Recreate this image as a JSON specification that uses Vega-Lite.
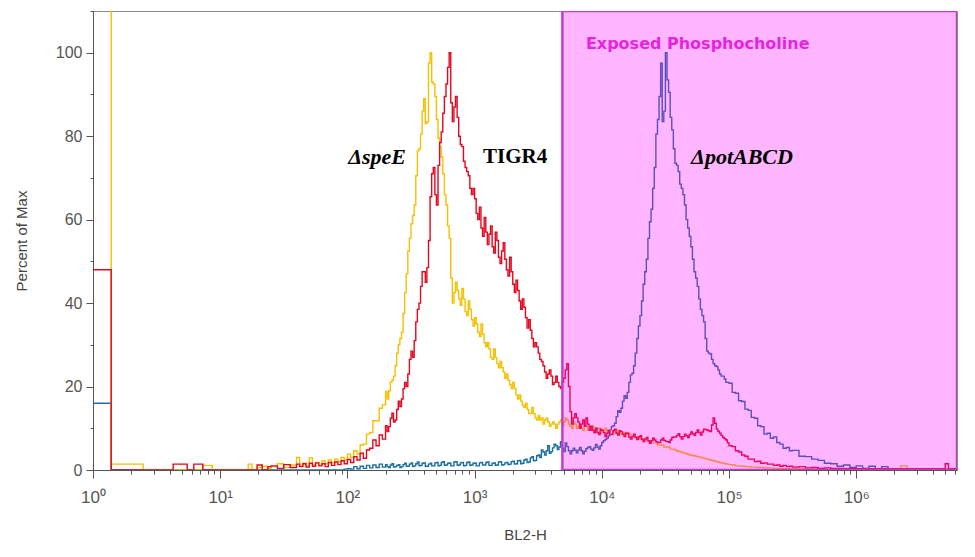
{
  "$schema": "https://vega.github.io/schema/vega-lite/v6.json",
  "width": 864,
  "height": 459,
  "autosize": "none",
  "padding": {"left": 93, "top": 11, "right": 18, "bottom": 87},
  "background": "white",
  "datasets": {
    "hist": [
      {"x": 1, "speE": 115, "TIGR4": 48, "potABCD": 16},
      {"x": 1.39, "speE": 1.4, "TIGR4": 0, "potABCD": 0},
      {"x": 2.48, "speE": 0, "TIGR4": 0, "potABCD": 0},
      {"x": 4.27, "speE": 0, "TIGR4": 1.4, "potABCD": 0},
      {"x": 5.5, "speE": 0, "TIGR4": 0, "potABCD": 0},
      {"x": 6.2, "speE": 0, "TIGR4": 1.4, "potABCD": 0},
      {"x": 7.3, "speE": 1.1, "TIGR4": 0, "potABCD": 0},
      {"x": 8.65, "speE": 0, "TIGR4": 0, "potABCD": 0},
      {"x": 16.6, "speE": 1.4, "TIGR4": 0, "potABCD": 0},
      {"x": 17.8, "speE": 0, "TIGR4": 0, "potABCD": 0},
      {"x": 19.5, "speE": 0.6, "TIGR4": 1.2, "potABCD": 0},
      {"x": 21.4, "speE": 0.9, "TIGR4": 0, "potABCD": 0},
      {"x": 23.7, "speE": 0.4, "TIGR4": 0.8, "potABCD": 0},
      {"x": 25.12, "speE": 0.8, "TIGR4": 1.0, "potABCD": 0},
      {"x": 28.18, "speE": 1.5, "TIGR4": 0.4, "potABCD": 0},
      {"x": 31.62, "speE": 0.6, "TIGR4": 1.3, "potABCD": 0},
      {"x": 35.48, "speE": 1.2, "TIGR4": 0.6, "potABCD": 0},
      {"x": 39.81, "speE": 3.0, "TIGR4": 1.4, "potABCD": 0},
      {"x": 42.17, "speE": 1.0, "TIGR4": 0.8, "potABCD": 0},
      {"x": 44.67, "speE": 1.6, "TIGR4": 1.5, "potABCD": 0},
      {"x": 47.32, "speE": 0.9, "TIGR4": 0.7, "potABCD": 0},
      {"x": 50.12, "speE": 2.9, "TIGR4": 1.6, "potABCD": 0},
      {"x": 53.09, "speE": 1.3, "TIGR4": 0.9, "potABCD": 0},
      {"x": 56.23, "speE": 1.8, "TIGR4": 1.7, "potABCD": 0},
      {"x": 59.57, "speE": 1.1, "TIGR4": 1.0, "potABCD": 0},
      {"x": 63.10, "speE": 2.2, "TIGR4": 1.5, "potABCD": 0},
      {"x": 66.83, "speE": 1.5, "TIGR4": 0.8, "potABCD": 0},
      {"x": 70.79, "speE": 2.4, "TIGR4": 1.8, "potABCD": 0},
      {"x": 74.99, "speE": 1.7, "TIGR4": 1.1, "potABCD": 0},
      {"x": 79.43, "speE": 2.6, "TIGR4": 1.9, "potABCD": 0},
      {"x": 84.14, "speE": 2.0, "TIGR4": 1.3, "potABCD": 0},
      {"x": 89.13, "speE": 3.0, "TIGR4": 2.2, "potABCD": 0},
      {"x": 94.41, "speE": 2.4, "TIGR4": 1.5, "potABCD": 0.2},
      {"x": 100, "speE": 3.8, "TIGR4": 2.5, "potABCD": 0.3},
      {"x": 105.9, "speE": 3.0, "TIGR4": 1.8, "potABCD": 0.2},
      {"x": 112.2, "speE": 4.6, "TIGR4": 3.2, "potABCD": 0.8},
      {"x": 118.9, "speE": 3.8, "TIGR4": 2.4, "potABCD": 0.3},
      {"x": 125.9, "speE": 6.0, "TIGR4": 4.0, "potABCD": 0.9},
      {"x": 133.4, "speE": 6.2, "TIGR4": 2.8, "potABCD": 0.4},
      {"x": 141.3, "speE": 8.6, "TIGR4": 4.8, "potABCD": 1.1},
      {"x": 149.6, "speE": 9.0, "TIGR4": 5.2, "potABCD": 0.5},
      {"x": 158.5, "speE": 11.8, "TIGR4": 7.2, "potABCD": 1.2},
      {"x": 167.9, "speE": 11.8, "TIGR4": 5.8, "potABCD": 0.6},
      {"x": 177.8, "speE": 14.8, "TIGR4": 8.4, "potABCD": 1.4},
      {"x": 188.4, "speE": 15.6, "TIGR4": 7.4, "potABCD": 0.7},
      {"x": 199.5, "speE": 18.8, "TIGR4": 10.6, "potABCD": 1.3},
      {"x": 211.3, "speE": 19.0, "TIGR4": 10.4, "potABCD": 0.6},
      {"x": 223.9, "speE": 21.5, "TIGR4": 13.6, "potABCD": 1.5},
      {"x": 237.1, "speE": 25.0, "TIGR4": 12.0, "potABCD": 0.8},
      {"x": 251.2, "speE": 30.0, "TIGR4": 16.5, "potABCD": 1.3},
      {"x": 266.1, "speE": 33.0, "TIGR4": 17.0, "potABCD": 0.8},
      {"x": 281.8, "speE": 42.5, "TIGR4": 21.0, "potABCD": 1.6},
      {"x": 298.5, "speE": 52.5, "TIGR4": 23.0, "potABCD": 0.9},
      {"x": 316.2, "speE": 59.0, "TIGR4": 28.5, "potABCD": 1.7},
      {"x": 335.0, "speE": 63.5, "TIGR4": 31.0, "potABCD": 1.0},
      {"x": 354.8, "speE": 76.5, "TIGR4": 38.5, "potABCD": 1.9},
      {"x": 375.8, "speE": 80.5, "TIGR4": 44.0, "potABCD": 1.1},
      {"x": 398.1, "speE": 89.0, "TIGR4": 47.5, "potABCD": 1.7},
      {"x": 421.7, "speE": 83.5, "TIGR4": 48.5, "potABCD": 0.9},
      {"x": 446.7, "speE": 100, "TIGR4": 65.5, "potABCD": 1.6},
      {"x": 473.2, "speE": 92.5, "TIGR4": 72.5, "potABCD": 1.0},
      {"x": 501.2, "speE": 84.0, "TIGR4": 63.5, "potABCD": 1.8},
      {"x": 530.9, "speE": 77.5, "TIGR4": 78.5, "potABCD": 1.1},
      {"x": 562.3, "speE": 71.0, "TIGR4": 85.5, "potABCD": 2.0},
      {"x": 595.7, "speE": 63.5, "TIGR4": 92.5, "potABCD": 1.2},
      {"x": 631.0, "speE": 55.5, "TIGR4": 100, "potABCD": 1.7},
      {"x": 668.3, "speE": 40.0, "TIGR4": 83.5, "potABCD": 1.0},
      {"x": 707.9, "speE": 45.0, "TIGR4": 89.5, "potABCD": 2.0},
      {"x": 749.9, "speE": 41.0, "TIGR4": 80.0, "potABCD": 1.2},
      {"x": 794.3, "speE": 43.5, "TIGR4": 77.5, "potABCD": 1.8},
      {"x": 841.4, "speE": 38.0, "TIGR4": 72.5, "potABCD": 1.1},
      {"x": 891.3, "speE": 40.5, "TIGR4": 70.5, "potABCD": 1.9},
      {"x": 944.1, "speE": 36.0, "TIGR4": 66.0, "potABCD": 1.2},
      {"x": 1000, "speE": 36.5, "TIGR4": 65.0, "potABCD": 1.7},
      {"x": 1059, "speE": 33.0, "TIGR4": 60.0, "potABCD": 1.0},
      {"x": 1122, "speE": 35.0, "TIGR4": 58.0, "potABCD": 1.8},
      {"x": 1189, "speE": 30.5, "TIGR4": 60.5, "potABCD": 1.2},
      {"x": 1259, "speE": 30.5, "TIGR4": 54.0, "potABCD": 1.9},
      {"x": 1334, "speE": 27.0, "TIGR4": 58.5, "potABCD": 1.1},
      {"x": 1413, "speE": 29.0, "TIGR4": 52.0, "potABCD": 1.7},
      {"x": 1496, "speE": 25.5, "TIGR4": 55.0, "potABCD": 1.2},
      {"x": 1585, "speE": 26.0, "TIGR4": 49.5, "potABCD": 2.0},
      {"x": 1679, "speE": 23.5, "TIGR4": 54.5, "potABCD": 1.3},
      {"x": 1778, "speE": 23.0, "TIGR4": 48.0, "potABCD": 1.8},
      {"x": 1884, "speE": 20.5, "TIGR4": 51.0, "potABCD": 1.4},
      {"x": 1995, "speE": 21.0, "TIGR4": 44.5, "potABCD": 2.1},
      {"x": 2113, "speE": 18.0, "TIGR4": 45.5, "potABCD": 1.5},
      {"x": 2239, "speE": 18.0, "TIGR4": 40.5, "potABCD": 2.3},
      {"x": 2371, "speE": 15.5, "TIGR4": 41.0, "potABCD": 1.6},
      {"x": 2512, "speE": 16.0, "TIGR4": 36.5, "potABCD": 2.6},
      {"x": 2661, "speE": 13.5, "TIGR4": 36.0, "potABCD": 1.9},
      {"x": 2818, "speE": 15.0, "TIGR4": 31.5, "potABCD": 3.2},
      {"x": 2985, "speE": 12.5, "TIGR4": 30.5, "potABCD": 2.3},
      {"x": 3162, "speE": 13.0, "TIGR4": 28.0, "potABCD": 3.6},
      {"x": 3350, "speE": 12.5, "TIGR4": 26.0, "potABCD": 4.8},
      {"x": 3548, "speE": 12.0, "TIGR4": 23.5, "potABCD": 3.6},
      {"x": 3758, "speE": 11.5, "TIGR4": 23.0, "potABCD": 5.8},
      {"x": 3981, "speE": 11.0, "TIGR4": 22.5, "potABCD": 4.4},
      {"x": 4217, "speE": 11.0, "TIGR4": 21.0, "potABCD": 6.2},
      {"x": 4467, "speE": 11.0, "TIGR4": 21.0, "potABCD": 4.9},
      {"x": 4732, "speE": 12.0, "TIGR4": 19.5, "potABCD": 6.8},
      {"x": 5012, "speE": 11.5, "TIGR4": 22.0, "potABCD": 4.4},
      {"x": 5309, "speE": 12.0, "TIGR4": 25.5, "potABCD": 5.6},
      {"x": 5623, "speE": 10.5, "TIGR4": 14.0, "potABCD": 3.9},
      {"x": 5957, "speE": 11.5, "TIGR4": 12.5, "potABCD": 5.2},
      {"x": 6310, "speE": 10.0, "TIGR4": 12.5, "potABCD": 4.1},
      {"x": 6683, "speE": 11.0, "TIGR4": 10.0, "potABCD": 5.4},
      {"x": 7079, "speE": 9.5, "TIGR4": 12.0, "potABCD": 3.9},
      {"x": 7499, "speE": 10.5, "TIGR4": 12.5, "potABCD": 5.1},
      {"x": 7943, "speE": 9.5, "TIGR4": 9.5, "potABCD": 5.6},
      {"x": 8414, "speE": 10.5, "TIGR4": 9.5, "potABCD": 4.7},
      {"x": 8913, "speE": 9.5, "TIGR4": 10.0, "potABCD": 6.1},
      {"x": 9441, "speE": 10.0, "TIGR4": 8.5, "potABCD": 5.0},
      {"x": 10000, "speE": 9.5, "TIGR4": 9.5, "potABCD": 6.6},
      {"x": 10590, "speE": 10.0, "TIGR4": 8.0, "potABCD": 7.3},
      {"x": 11220, "speE": 9.0, "TIGR4": 9.5, "potABCD": 8.2},
      {"x": 11890, "speE": 9.5, "TIGR4": 8.5, "potABCD": 10.4},
      {"x": 12590, "speE": 9.0, "TIGR4": 9.8, "potABCD": 11.2},
      {"x": 13340, "speE": 9.5, "TIGR4": 8.4, "potABCD": 14.2},
      {"x": 14130, "speE": 8.5, "TIGR4": 9.2, "potABCD": 14.8},
      {"x": 14960, "speE": 9.0, "TIGR4": 8.0, "potABCD": 17.8},
      {"x": 15850, "speE": 8.5, "TIGR4": 8.8, "potABCD": 18.6},
      {"x": 16790, "speE": 8.5, "TIGR4": 7.4, "potABCD": 22.8},
      {"x": 17780, "speE": 8.0, "TIGR4": 8.6, "potABCD": 25.0},
      {"x": 18840, "speE": 8.0, "TIGR4": 7.3, "potABCD": 31.5},
      {"x": 19950, "speE": 7.5, "TIGR4": 8.2, "potABCD": 37.0},
      {"x": 21130, "speE": 7.5, "TIGR4": 6.8, "potABCD": 44.5},
      {"x": 22390, "speE": 7.0, "TIGR4": 7.8, "potABCD": 50.5},
      {"x": 23710, "speE": 7.0, "TIGR4": 6.4, "potABCD": 59.5},
      {"x": 25120, "speE": 6.5, "TIGR4": 7.6, "potABCD": 67.5},
      {"x": 26610, "speE": 6.5, "TIGR4": 6.8, "potABCD": 80.5},
      {"x": 28180, "speE": 6.0, "TIGR4": 6.6, "potABCD": 89.5},
      {"x": 29850, "speE": 6.0, "TIGR4": 7.6, "potABCD": 83.5},
      {"x": 31620, "speE": 5.5, "TIGR4": 6.9, "potABCD": 100},
      {"x": 33500, "speE": 5.5, "TIGR4": 6.6, "potABCD": 90.5},
      {"x": 35480, "speE": 5.0, "TIGR4": 7.8, "potABCD": 81.5},
      {"x": 37580, "speE": 4.8, "TIGR4": 7.9, "potABCD": 73.5},
      {"x": 39810, "speE": 4.5, "TIGR4": 8.7, "potABCD": 71.5},
      {"x": 42170, "speE": 4.2, "TIGR4": 7.4, "potABCD": 67.5},
      {"x": 44670, "speE": 4.0, "TIGR4": 8.6, "potABCD": 63.5},
      {"x": 47320, "speE": 3.8, "TIGR4": 7.8, "potABCD": 58.0},
      {"x": 50120, "speE": 3.5, "TIGR4": 9.1, "potABCD": 53.5},
      {"x": 53090, "speE": 3.4, "TIGR4": 8.3, "potABCD": 47.5},
      {"x": 56230, "speE": 3.2, "TIGR4": 9.6, "potABCD": 44.0},
      {"x": 59570, "speE": 3.0, "TIGR4": 8.4, "potABCD": 38.5},
      {"x": 63100, "speE": 2.8, "TIGR4": 9.8, "potABCD": 35.5},
      {"x": 66830, "speE": 2.6, "TIGR4": 9.6, "potABCD": 28.5},
      {"x": 70790, "speE": 2.4, "TIGR4": 9.2, "potABCD": 27.8},
      {"x": 74990, "speE": 2.2, "TIGR4": 12.5, "potABCD": 25.5},
      {"x": 79430, "speE": 2.0, "TIGR4": 9.8, "potABCD": 24.8},
      {"x": 84140, "speE": 1.8, "TIGR4": 8.8, "potABCD": 23.0},
      {"x": 89130, "speE": 1.6, "TIGR4": 7.8, "potABCD": 22.5},
      {"x": 94410, "speE": 1.5, "TIGR4": 7.2, "potABCD": 21.0},
      {"x": 100000, "speE": 1.3, "TIGR4": 5.8, "potABCD": 20.8},
      {"x": 105900, "speE": 1.2, "TIGR4": 5.6, "potABCD": 18.6},
      {"x": 112200, "speE": 1.0, "TIGR4": 4.6, "potABCD": 18.4},
      {"x": 118900, "speE": 1.0, "TIGR4": 4.3, "potABCD": 16.6},
      {"x": 125900, "speE": 0.9, "TIGR4": 3.6, "potABCD": 16.4},
      {"x": 133400, "speE": 0.8, "TIGR4": 3.3, "potABCD": 14.6},
      {"x": 141300, "speE": 0.8, "TIGR4": 2.6, "potABCD": 14.3},
      {"x": 149600, "speE": 0.7, "TIGR4": 2.6, "potABCD": 12.6},
      {"x": 158500, "speE": 0.7, "TIGR4": 2.0, "potABCD": 12.4},
      {"x": 167900, "speE": 0.6, "TIGR4": 2.1, "potABCD": 10.6},
      {"x": 177800, "speE": 0.6, "TIGR4": 1.6, "potABCD": 10.4},
      {"x": 188400, "speE": 0.5, "TIGR4": 1.7, "potABCD": 8.6},
      {"x": 199500, "speE": 0.5, "TIGR4": 1.4, "potABCD": 8.8},
      {"x": 211300, "speE": 0.5, "TIGR4": 1.4, "potABCD": 7.6},
      {"x": 223900, "speE": 0.4, "TIGR4": 1.1, "potABCD": 7.9},
      {"x": 237100, "speE": 0.4, "TIGR4": 1.2, "potABCD": 6.6},
      {"x": 251200, "speE": 0.4, "TIGR4": 0.9, "potABCD": 6.2},
      {"x": 266100, "speE": 0.3, "TIGR4": 1.1, "potABCD": 5.2},
      {"x": 281800, "speE": 0.3, "TIGR4": 0.8, "potABCD": 5.4},
      {"x": 298500, "speE": 0.3, "TIGR4": 0.9, "potABCD": 4.6},
      {"x": 316200, "speE": 0.3, "TIGR4": 0.7, "potABCD": 4.7},
      {"x": 354800, "speE": 0.3, "TIGR4": 0.8, "potABCD": 3.3},
      {"x": 398100, "speE": 0.2, "TIGR4": 0.5, "potABCD": 3.2},
      {"x": 446700, "speE": 0.2, "TIGR4": 0.6, "potABCD": 2.6},
      {"x": 501200, "speE": 0.2, "TIGR4": 0.4, "potABCD": 2.3},
      {"x": 562300, "speE": 0.2, "TIGR4": 0.5, "potABCD": 1.6},
      {"x": 631000, "speE": 0.2, "TIGR4": 0.4, "potABCD": 1.5},
      {"x": 707900, "speE": 0.2, "TIGR4": 0.4, "potABCD": 0.9},
      {"x": 794300, "speE": 0.2, "TIGR4": 0.3, "potABCD": 1.2},
      {"x": 891300, "speE": 0.2, "TIGR4": 0.4, "potABCD": 0.6},
      {"x": 1000000, "speE": 0.2, "TIGR4": 0.3, "potABCD": 1.0},
      {"x": 1122000, "speE": 0.2, "TIGR4": 0.3, "potABCD": 0.4},
      {"x": 1259000, "speE": 0.2, "TIGR4": 0.3, "potABCD": 0.9},
      {"x": 1413000, "speE": 0.2, "TIGR4": 0.3, "potABCD": 0.3},
      {"x": 1585000, "speE": 0.2, "TIGR4": 0.3, "potABCD": 0.8},
      {"x": 1778000, "speE": 0.2, "TIGR4": 0.3, "potABCD": 0.2},
      {"x": 1995000, "speE": 0.2, "TIGR4": 0.3, "potABCD": 0.2},
      {"x": 2239000, "speE": 1.0, "TIGR4": 0.3, "potABCD": 0.2},
      {"x": 2512000, "speE": 0.2, "TIGR4": 0.3, "potABCD": 0.2},
      {"x": 3162000, "speE": 0.2, "TIGR4": 0.3, "potABCD": 0.2},
      {"x": 5012000, "speE": 0.2, "TIGR4": 1.5, "potABCD": 0.2},
      {"x": 5309000, "speE": 0.2, "TIGR4": 0.3, "potABCD": 0.2},
      {"x": 6310000, "speE": 0.2, "TIGR4": 0.3, "potABCD": 0.2},
      {"x": 205.3, "speE": 17.0, "TIGR4": 9.2, "potABCD": 0.8},
      {"x": 217.5, "speE": 21.0, "TIGR4": 12.4, "potABCD": 1.2},
      {"x": 230.4, "speE": 22.5, "TIGR4": 11.5, "potABCD": 0.7},
      {"x": 244.0, "speE": 28.0, "TIGR4": 14.5, "potABCD": 1.1},
      {"x": 258.5, "speE": 31.5, "TIGR4": 15.2, "potABCD": 0.6},
      {"x": 273.9, "speE": 37.5, "TIGR4": 19.5, "potABCD": 1.3},
      {"x": 290.0, "speE": 47.0, "TIGR4": 20.0, "potABCD": 0.9},
      {"x": 307.2, "speE": 55.5, "TIGR4": 26.5, "potABCD": 1.4},
      {"x": 325.4, "speE": 61.0, "TIGR4": 27.0, "potABCD": 0.8},
      {"x": 344.8, "speE": 70.5, "TIGR4": 35.5, "potABCD": 1.5},
      {"x": 365.2, "speE": 77.0, "TIGR4": 40.0, "potABCD": 1.0},
      {"x": 386.8, "speE": 86.0, "TIGR4": 47.5, "potABCD": 1.6},
      {"x": 409.7, "speE": 83.0, "TIGR4": 45.0, "potABCD": 0.9},
      {"x": 434.0, "speE": 97.5, "TIGR4": 55.0, "potABCD": 1.4},
      {"x": 459.7, "speE": 93.0, "TIGR4": 71.0, "potABCD": 1.0},
      {"x": 487.0, "speE": 89.5, "TIGR4": 66.0, "potABCD": 1.7},
      {"x": 515.8, "speE": 79.5, "TIGR4": 73.0, "potABCD": 1.0},
      {"x": 546.4, "speE": 75.0, "TIGR4": 81.0, "potABCD": 1.8},
      {"x": 578.7, "speE": 66.0, "TIGR4": 89.5, "potABCD": 1.1},
      {"x": 613.1, "speE": 58.5, "TIGR4": 96.5, "potABCD": 1.6},
      {"x": 649.4, "speE": 46.0, "TIGR4": 88.0, "potABCD": 1.0},
      {"x": 687.8, "speE": 42.5, "TIGR4": 87.0, "potABCD": 1.9},
      {"x": 728.6, "speE": 43.0, "TIGR4": 84.5, "potABCD": 1.1},
      {"x": 771.8, "speE": 39.5, "TIGR4": 78.0, "potABCD": 1.7},
      {"x": 817.5, "speE": 41.0, "TIGR4": 74.0, "potABCD": 1.0},
      {"x": 866.0, "speE": 37.0, "TIGR4": 71.5, "potABCD": 1.8},
      {"x": 917.3, "speE": 38.5, "TIGR4": 67.5, "potABCD": 1.1},
      {"x": 971.7, "speE": 34.5, "TIGR4": 67.5, "potABCD": 1.6},
      {"x": 1029, "speE": 35.0, "TIGR4": 61.5, "potABCD": 1.0},
      {"x": 1090, "speE": 32.0, "TIGR4": 63.0, "potABCD": 1.7},
      {"x": 1155, "speE": 32.5, "TIGR4": 56.0, "potABCD": 1.2},
      {"x": 1224, "speE": 29.5, "TIGR4": 57.0, "potABCD": 1.8},
      {"x": 1296, "speE": 29.0, "TIGR4": 56.5, "potABCD": 1.1},
      {"x": 1373, "speE": 26.5, "TIGR4": 53.5, "potABCD": 1.6},
      {"x": 1454, "speE": 27.0, "TIGR4": 57.0, "potABCD": 1.1},
      {"x": 1540, "speE": 24.5, "TIGR4": 51.0, "potABCD": 1.9},
      {"x": 1631, "speE": 24.5, "TIGR4": 52.5, "potABCD": 1.2},
      {"x": 1728, "speE": 22.0, "TIGR4": 50.5, "potABCD": 1.7},
      {"x": 1830, "speE": 21.5, "TIGR4": 46.5, "potABCD": 1.3},
      {"x": 1939, "speE": 19.5, "TIGR4": 47.5, "potABCD": 2.0},
      {"x": 2053, "speE": 19.5, "TIGR4": 42.5, "potABCD": 1.4},
      {"x": 2175, "speE": 17.0, "TIGR4": 43.0, "potABCD": 2.2},
      {"x": 2304, "speE": 16.5, "TIGR4": 38.5, "potABCD": 1.5},
      {"x": 2440, "speE": 15.0, "TIGR4": 39.0, "potABCD": 2.4},
      {"x": 2585, "speE": 14.5, "TIGR4": 34.0, "potABCD": 1.8},
      {"x": 2739, "speE": 13.5, "TIGR4": 33.5, "potABCD": 2.9},
      {"x": 2900, "speE": 13.5, "TIGR4": 29.5, "potABCD": 2.2},
      {"x": 3072, "speE": 12.0, "TIGR4": 29.5, "potABCD": 3.4},
      {"x": 3254, "speE": 12.0, "TIGR4": 26.5, "potABCD": 3.0},
      {"x": 3448, "speE": 11.0, "TIGR4": 25.0, "potABCD": 4.3},
      {"x": 3652, "speE": 12.5, "TIGR4": 22.0, "potABCD": 4.6},
      {"x": 3868, "speE": 10.5, "TIGR4": 24.0, "potABCD": 4.0},
      {"x": 4097, "speE": 11.5, "TIGR4": 20.5, "potABCD": 5.3},
      {"x": 4340, "speE": 10.0, "TIGR4": 22.5, "potABCD": 5.8},
      {"x": 4597, "speE": 11.5, "TIGR4": 20.0, "potABCD": 5.5},
      {"x": 4870, "speE": 10.5, "TIGR4": 21.0, "potABCD": 5.2},
      {"x": 5158, "speE": 12.5, "TIGR4": 24.0, "potABCD": 6.5},
      {"x": 5464, "speE": 11.0, "TIGR4": 20.0, "potABCD": 4.6},
      {"x": 5788, "speE": 10.0, "TIGR4": 11.0, "potABCD": 4.6},
      {"x": 6131, "speE": 11.0, "TIGR4": 13.5, "potABCD": 4.7},
      {"x": 6494, "speE": 10.5, "TIGR4": 11.5, "potABCD": 4.8},
      {"x": 6878, "speE": 10.0, "TIGR4": 11.0, "potABCD": 4.6},
      {"x": 7286, "speE": 10.5, "TIGR4": 10.5, "potABCD": 4.5},
      {"x": 7718, "speE": 9.5, "TIGR4": 11.0, "potABCD": 5.4},
      {"x": 8175, "speE": 10.0, "TIGR4": 10.5, "potABCD": 5.0},
      {"x": 8660, "speE": 9.0, "TIGR4": 9.0, "potABCD": 5.3},
      {"x": 9173, "speE": 10.0, "TIGR4": 9.0, "potABCD": 5.5},
      {"x": 9717, "speE": 9.0, "TIGR4": 9.8, "potABCD": 5.8},
      {"x": 10290, "speE": 9.5, "TIGR4": 9.0, "potABCD": 7.0},
      {"x": 10900, "speE": 9.5, "TIGR4": 8.8, "potABCD": 7.6},
      {"x": 11550, "speE": 9.5, "TIGR4": 8.6, "potABCD": 9.6},
      {"x": 12240, "speE": 9.0, "TIGR4": 9.4, "potABCD": 10.6},
      {"x": 12960, "speE": 9.0, "TIGR4": 8.8, "potABCD": 12.8},
      {"x": 13730, "speE": 9.0, "TIGR4": 9.4, "potABCD": 13.8},
      {"x": 14540, "speE": 8.5, "TIGR4": 8.6, "potABCD": 16.5},
      {"x": 15400, "speE": 9.0, "TIGR4": 8.8, "potABCD": 17.2},
      {"x": 16310, "speE": 8.5, "TIGR4": 7.9, "potABCD": 21.0},
      {"x": 17280, "speE": 8.0, "TIGR4": 8.0, "potABCD": 23.2},
      {"x": 18300, "speE": 8.0, "TIGR4": 7.8, "potABCD": 28.0},
      {"x": 19390, "speE": 7.5, "TIGR4": 7.9, "potABCD": 34.5},
      {"x": 20530, "speE": 7.5, "TIGR4": 7.3, "potABCD": 40.5},
      {"x": 21750, "speE": 7.0, "TIGR4": 7.4, "potABCD": 47.5},
      {"x": 23040, "speE": 7.0, "TIGR4": 7.0, "potABCD": 55.5},
      {"x": 24400, "speE": 6.5, "TIGR4": 7.0, "potABCD": 62.5},
      {"x": 25850, "speE": 6.5, "TIGR4": 7.2, "potABCD": 72.5},
      {"x": 27390, "speE": 6.0, "TIGR4": 6.6, "potABCD": 84.0},
      {"x": 29000, "speE": 6.0, "TIGR4": 7.2, "potABCD": 97.5},
      {"x": 30720, "speE": 5.5, "TIGR4": 7.1, "potABCD": 86.0},
      {"x": 32540, "speE": 5.5, "TIGR4": 6.8, "potABCD": 93.5},
      {"x": 34480, "speE": 5.0, "TIGR4": 7.2, "potABCD": 84.5},
      {"x": 36520, "speE": 5.0, "TIGR4": 7.9, "potABCD": 77.0},
      {"x": 38680, "speE": 4.6, "TIGR4": 8.3, "potABCD": 73.0},
      {"x": 40970, "speE": 4.4, "TIGR4": 8.0, "potABCD": 68.5},
      {"x": 43400, "speE": 4.1, "TIGR4": 8.0, "potABCD": 66.0},
      {"x": 45970, "speE": 3.9, "TIGR4": 8.2, "potABCD": 60.0},
      {"x": 48700, "speE": 3.6, "TIGR4": 8.5, "potABCD": 56.0},
      {"x": 51580, "speE": 3.4, "TIGR4": 8.7, "potABCD": 50.5},
      {"x": 54640, "speE": 3.3, "TIGR4": 9.0, "potABCD": 46.0},
      {"x": 57880, "speE": 3.1, "TIGR4": 9.0, "potABCD": 41.0},
      {"x": 61310, "speE": 2.9, "TIGR4": 9.1, "potABCD": 37.0},
      {"x": 64940, "speE": 2.7, "TIGR4": 9.7, "potABCD": 31.5},
      {"x": 68780, "speE": 2.5, "TIGR4": 9.4, "potABCD": 28.0},
      {"x": 72860, "speE": 2.3, "TIGR4": 10.8, "potABCD": 26.5},
      {"x": 77180, "speE": 2.1, "TIGR4": 11.2, "potABCD": 25.0},
      {"x": 81750, "speE": 1.9, "TIGR4": 9.3, "potABCD": 24.0},
      {"x": 86600, "speE": 1.7, "TIGR4": 8.3, "potABCD": 22.5},
      {"x": 91730, "speE": 1.5, "TIGR4": 7.5, "potABCD": 21.8},
      {"x": 97170, "speE": 1.4, "TIGR4": 6.5, "potABCD": 21.0}
    ],
    "gate": [{"lo": 4900, "hi": 6200000, "bottom": 0, "top": 110}]
  },
  "layer": [
    {
      "data": {"name": "hist"},
      "mark": {"type": "line", "interpolate": "step-after", "color": "#1b6fa3", "strokeWidth": 1.4, "clip": true},
      "encoding": {
        "x": {
          "field": "x", "type": "quantitative",
          "scale": {"type": "log", "domain": [1, 6200000], "nice": false},
          "axis": {
            "title": "BL2-H",
            "values": [1,2,3,4,5,6,7,8,9,10,20,30,40,50,60,70,80,90,100,200,300,400,500,600,700,800,900,1000,2000,3000,4000,5000,6000,7000,8000,9000,10000,20000,30000,40000,50000,60000,70000,80000,90000,100000,200000,300000,400000,500000,600000,700000,800000,900000,1000000,2000000,3000000,4000000,5000000,6000000],
            "labelExpr": "abs(log(datum.value)/LN10 - round(log(datum.value)/LN10)) < 0.001 ? '10' + ['⁰','¹','²','³','⁴','⁵','⁶'][round(log(datum.value)/LN10)] : ''",
            "tickSize": {"condition": {"test": "abs(log(datum.value)/LN10 - round(log(datum.value)/LN10)) < 0.001", "value": 8}, "value": 4},
            "labelFlush": false,
            "labelOverlap": false,
            "labelPadding": 11,
            "labelFontSize": 17,
            "titlePadding": 22
          }
        },
        "y": {
          "field": "potABCD", "type": "quantitative",
          "scale": {"domain": [0, 110], "nice": false},
          "axis": {
            "title": "Percent of Max",
            "values": [0,5,10,15,20,25,30,35,40,45,50,55,60,65,70,75,80,85,90,95,100,105,110],
            "labelExpr": "datum.value % 20 == 0 && datum.value <= 100 ? datum.value : ''",
            "tickSize": {"condition": {"test": "datum.value % 20 == 0 && datum.value <= 100", "value": 7}, "value": 3},
            "labelOverlap": false,
            "labelPadding": 4,
            "labelFontSize": 16,
            "titlePadding": 26
          }
        }
      }
    },
    {
      "data": {"name": "hist"},
      "mark": {"type": "line", "interpolate": "step-after", "color": "#f5c000", "strokeWidth": 1.4, "clip": true},
      "encoding": {
        "x": {"field": "x", "type": "quantitative", "title": "BL2-H"},
        "y": {"field": "speE", "type": "quantitative", "title": "Percent of Max"}
      }
    },
    {
      "data": {"name": "hist"},
      "mark": {"type": "line", "interpolate": "step-after", "color": "#e4071f", "strokeWidth": 1.4, "clip": true},
      "encoding": {
        "x": {"field": "x", "type": "quantitative", "title": "BL2-H"},
        "y": {"field": "TIGR4", "type": "quantitative", "title": "Percent of Max"}
      }
    },
    {
      "data": {"name": "gate"},
      "mark": {"type": "rect", "fill": "#ff00ff", "fillOpacity": 0.29, "stroke": "#c43ccf", "strokeWidth": 2.5, "clip": true},
      "encoding": {
        "x": {"field": "lo", "type": "quantitative", "title": "BL2-H"},
        "x2": {"field": "hi"},
        "y": {"field": "bottom", "type": "quantitative", "title": "Percent of Max"},
        "y2": {"field": "top"}
      }
    },
    {
      "data": {"values": [{"x": 7500, "y": 102, "label": "Exposed Phosphocholine"}]},
      "mark": {"type": "text", "align": "left", "baseline": "middle", "font": "DejaVu Sans", "fontWeight": "bold", "fontSize": 16, "color": "#e524e0"},
      "encoding": {
        "x": {"field": "x", "type": "quantitative", "title": "BL2-H"},
        "y": {"field": "y", "type": "quantitative", "title": "Percent of Max"},
        "text": {"field": "label"}
      }
    },
    {
      "data": {"values": [{"x": 171, "y": 75, "label": "ΔspeE"}, {"x": 126500, "y": 75, "label": "ΔpotABCD"}]},
      "mark": {"type": "text", "align": "center", "baseline": "middle", "font": "Liberation Serif", "fontWeight": "bold", "fontStyle": "italic", "fontSize": 22, "color": "black"},
      "encoding": {
        "x": {"field": "x", "type": "quantitative", "title": "BL2-H"},
        "y": {"field": "y", "type": "quantitative", "title": "Percent of Max"},
        "text": {"field": "label"}
      }
    },
    {
      "data": {"values": [{"x": 2080, "y": 75, "label": "TIGR4"}]},
      "mark": {"type": "text", "align": "center", "baseline": "middle", "font": "Liberation Serif", "fontWeight": "bold", "fontSize": 21, "color": "black"},
      "encoding": {
        "x": {"field": "x", "type": "quantitative", "title": "BL2-H"},
        "y": {"field": "y", "type": "quantitative", "title": "Percent of Max"},
        "text": {"field": "label"}
      }
    }
  ],
  "config": {
    "view": {"stroke": "#8a8a8a"},
    "axis": {
      "grid": false,
      "domainColor": "#555555",
      "tickColor": "#555555",
      "labelColor": "#555555",
      "labelFont": "Liberation Sans",
      "titleFont": "Liberation Sans",
      "titleFontWeight": "normal",
      "titleFontSize": 15,
      "titleColor": "#444444"
    }
  }
}
